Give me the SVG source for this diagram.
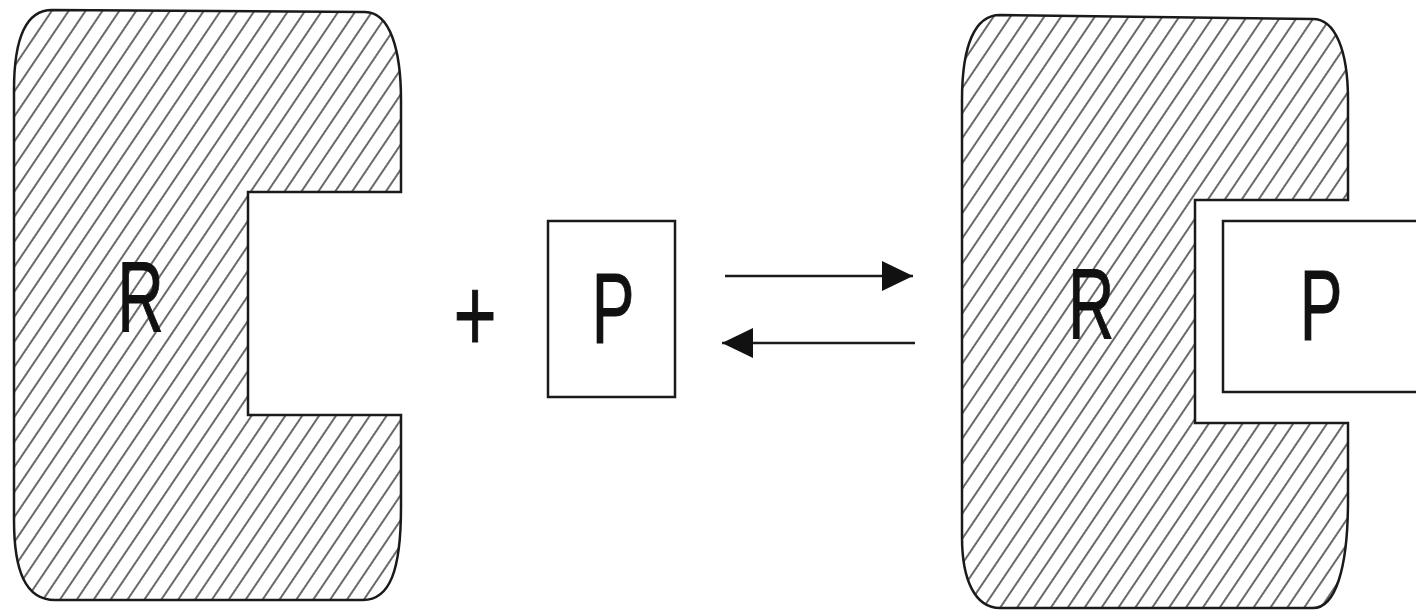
<svg xmlns="http://www.w3.org/2000/svg" width="1416" height="613" viewBox="0 0 1416 613">
  <style>
    .outline { fill: url(#hatch); stroke: #1a1a1a; stroke-width: 2.5; stroke-linejoin: miter; }
    .box { fill: #ffffff; stroke: #1a1a1a; stroke-width: 2.5; }
    .lbl { font-family: "Liberation Sans", Arial, sans-serif; font-size: 100px; fill: #111111; text-anchor: middle; stroke: #111111; stroke-width: 1; }
    .arrow { stroke: #1a1a1a; stroke-width: 2.6; fill: none; }
  </style>
  <defs>
    <pattern id="hatch" patternUnits="userSpaceOnUse" width="14" height="14" patternTransform="rotate(34)">
      <rect width="14" height="14" fill="#ffffff"/>
      <line x1="7" y1="-2" x2="7" y2="16" stroke="#2a2a2a" stroke-width="1.4"/>
    </pattern>
    <marker id="head" markerUnits="userSpaceOnUse" markerWidth="32" markerHeight="32" refX="31" refY="16" orient="auto">
      <path d="M0,1 L31,16 L0,31 Z" fill="#111111"/>
    </marker>
  </defs>
  <rect width="1416" height="613" fill="#ffffff"/>

  <g id="receptor-left">
    <path class="outline" d="M52,10 L365,12 C390,12 401,50 401,100 L401,192 L248,192 L248,415 L401,415 L401,507 C401,570 390,600 363,600 L55,600 C25,600 14,570 14,520 L14,90 C14,40 25,10 52,10 Z"/>
    <text class="lbl" transform="translate(140.5,332) scale(0.64,1)">R</text>
  </g>

  <g id="plus">
    <text class="lbl" transform="translate(475,351) scale(0.74,1.06)">+</text>
  </g>

  <g id="ligand-free">
    <rect class="box" x="548" y="221" width="127" height="176"/>
    <text class="lbl" transform="translate(613,343) scale(0.64,1)">P</text>
  </g>

  <g id="connectors">
    <line class="arrow" x1="725" y1="276" x2="913" y2="276" marker-end="url(#head)"/>
    <line class="arrow" x1="915" y1="343" x2="722" y2="343" marker-end="url(#head)"/>
  </g>

  <g id="receptor-complex">
    <path class="outline" d="M1000,15 L1313,19 C1335,19 1348,50 1348,100 L1348,200 L1195,200 L1195,423 L1348,423 L1348,500 C1348,570 1335,608 1313,608 L1000,608 C975,608 962,580 962,537 L962,100 C962,45 975,15 1000,15 Z"/>
    <text class="lbl" transform="translate(1091,339) scale(0.64,1)">R</text>
  </g>

  <g id="ligand-bound">
    <rect class="box" x="1223" y="221" width="200" height="171"/>
    <text class="lbl" transform="translate(1321,340) scale(0.64,1)">P</text>
  </g>
</svg>
